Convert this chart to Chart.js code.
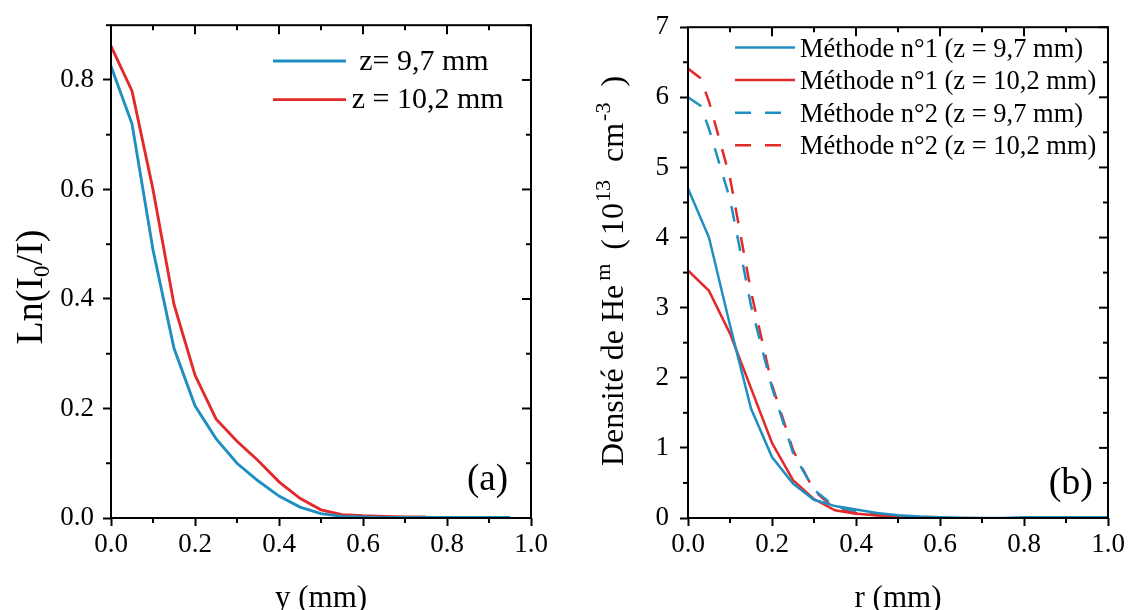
<!DOCTYPE html>
<html lang="fr">
<head>
<meta charset="UTF-8">
<title>Profils Ln(I0/I) et densité He(m)</title>
<script src="https://cdn.jsdelivr.net/npm/chart.js@4"></script>
<style>
  html, body { margin: 0; padding: 0; background: #fff; }
  #wrap { position: relative; width: 1129px; height: 610px; overflow: hidden; }
  #chartA { position: absolute; left: 0; top: 0; }
  #chartB { position: absolute; left: 560px; top: 0; }
</style>
</head>
<body>
<div id="wrap">
  <canvas id="chartA" width="560" height="610"></canvas>
  <canvas id="chartB" width="569" height="610"></canvas>
</div>
<script>
const FONT = '"Liberation Serif", "Times New Roman", Times, serif';
const BLUE = '#1f8fc2';
const RED = '#e32a2a';

// (a) Ln(I0/I) en fonction de y (mm)
const yPos = [0, 0.05, 0.1, 0.15, 0.2, 0.25, 0.3, 0.35, 0.4, 0.45, 0.5, 0.55, 0.6, 0.65, 0.7, 0.75, 0.8, 0.85, 0.9, 0.95];
const lnZ97 = [0.825, 0.72, 0.49, 0.31, 0.205, 0.145, 0.10, 0.068, 0.04, 0.02, 0.008, 0.003, 0.002, 0.001, 0.001, 0.001, 0.001, 0.001, 0.001, 0.001];
const lnZ102 = [0.862, 0.78, 0.60, 0.39, 0.261, 0.181, 0.14, 0.105, 0.066, 0.036, 0.015, 0.006, 0.004, 0.003, 0.002, 0.002];
const labelsA = [' z= 9,7 mm', 'z = 10,2 mm'];

// (b) densité de He(m) en fonction de r (mm)
const rPos = [0, 0.05, 0.1, 0.15, 0.2, 0.25, 0.3, 0.35, 0.4, 0.45, 0.5, 0.55, 0.6, 0.65, 0.7, 0.75, 0.8, 0.85, 0.9, 0.95, 1.0];
const m1Z97 = [4.70, 4.00, 2.75, 1.56, 0.87, 0.49, 0.26, 0.17, 0.12, 0.07, 0.04, 0.02, 0.01, 0.005, 0, 0, 0.01, 0.01, 0.01, 0.01, 0.01];
const m1Z102 = [3.53, 3.24, 2.63, 1.85, 1.07, 0.54, 0.27, 0.11, 0.06, 0.04, 0.025, 0.015, 0.01];
const rPos2 = [0, 0.03, 0.05, 0.1, 0.15, 0.2, 0.25, 0.3, 0.35, 0.4, 0.45, 0.5];
const m2Z97 = [6.00, 5.88, 5.55, 4.55, 3.03, 1.86, 0.93, 0.40, 0.16, 0.10, 0.05, 0.02];
const m2Z102 = [6.41, 6.27, 5.94, 4.85, 3.23, 1.90, 0.97, 0.39, 0.13, 0.07, 0.04, 0.02];
const labelsB = ['Méthode n°1 (z = 9,7 mm)', 'Méthode n°1 (z = 10,2 mm)', 'Méthode n°2 (z = 9,7 mm)', 'Méthode n°2 (z = 10,2 mm)'];

const pts = (xs, ys) => ys.map((v, i) => ({x: xs[i], y: v}));

function line(ctx, x1, y1, x2, y2) {
  ctx.beginPath(); ctx.moveTo(x1, y1); ctx.lineTo(x2, y2); ctx.stroke();
}

// texte vertical avec indices / exposants
function drawVertical(ctx, parts, bx, cy) {
  ctx.save();
  ctx.translate(bx, cy);
  ctx.rotate(-Math.PI / 2);
  ctx.fillStyle = '#000';
  ctx.textBaseline = 'alphabetic';
  let total = 0;
  parts.forEach(p => {
    ctx.font = p.s + 'px ' + FONT;
    p.w = ctx.measureText(p.t).width;
    total += p.w + (p.pad || 0);
  });
  let x = -total / 2;
  parts.forEach(p => {
    x += p.pad || 0;
    ctx.font = p.s + 'px ' + FONT;
    ctx.fillText(p.t, x, p.dy || 0);
    x += p.w;
  });
  ctx.restore();
}

// cadre, petites graduations, légende, titre y et étiquette (a)/(b)
const decor = {
  id: 'decor',
  afterDatasetsDraw(chart, args, o) {
    const {ctx, chartArea: a, scales: {x, y}} = chart;
    ctx.save();
    ctx.strokeStyle = '#000';
    ctx.lineWidth = 2;
    ctx.setLineDash([]);
    ctx.strokeRect(a.left, a.top, a.right - a.left, a.bottom - a.top);

    const nx = Math.round((x.max - x.min) / o.xMinor);
    for (let i = 0; i <= nx; i++) {
      const px = x.getPixelForValue(x.min + i * o.xMinor);
      const major = i % o.xEvery === 0;
      if (!major) line(ctx, px, a.bottom, px, a.bottom + 5);
      line(ctx, px, a.top, px, a.top + (major ? 9 : 5));
    }
    const ny = Math.round((y.max - y.min) / o.yMinor);
    for (let i = 0; i <= ny; i++) {
      const py = y.getPixelForValue(y.min + i * o.yMinor);
      const major = i % o.yEvery === 0;
      if (!major) line(ctx, a.left - 5, py, a.left, py);
      line(ctx, a.right - (major ? 9 : 5), py, a.right, py);
    }

    // légende
    const L = o.legend;
    chart.data.datasets.forEach((ds, i) => {
      const ly = L.y + i * L.rowH;
      ctx.strokeStyle = ds.borderColor;
      ctx.lineWidth = ds.borderWidth;
      ctx.setLineDash(ds.borderDash || []);
      line(ctx, L.x, ly, L.x + L.len, ly);
      ctx.setLineDash([]);
      ctx.fillStyle = '#000';
      ctx.font = L.size + 'px ' + FONT;
      ctx.textAlign = 'left';
      ctx.textBaseline = 'alphabetic';
      ctx.fillText(ds.label, L.x + L.len + L.gap, ly + L.dy);
    });

    // (a) / (b)
    ctx.font = o.tag.size + 'px ' + FONT;
    ctx.textAlign = 'right';
    ctx.fillText(o.tag.text, o.tag.x, o.tag.y);
    ctx.restore();

    drawVertical(ctx, o.yTitle.parts, o.yTitle.x, o.yTitle.y);
  }
};

function makeChart(id, datasets, s) {
  return new Chart(document.getElementById(id), {
    type: 'line',
    data: {datasets},
    options: {
      responsive: false,
      animation: false,
      devicePixelRatio: 1,
      layout: {padding: {left: 0, top: 24, right: s.padRight, bottom: 0}},
      elements: {point: {radius: 0}, line: {tension: 0}},
      plugins: {
        legend: {display: false},
        tooltip: {enabled: false},
        decor: s.decor
      },
      scales: {
        x: {
          type: 'linear', min: 0, max: 1,
          afterFit: sc => { sc.height = 92; },
          grid: {drawOnChartArea: false, drawTicks: true, tickLength: 8, tickWidth: 2, tickColor: '#000'},
          border: {display: false},
          ticks: {stepSize: 0.2, padding: 3, color: '#000', font: {family: FONT, size: 27},
                  callback: v => v.toFixed(1)},
          title: {display: true, text: s.xTitle, color: '#000', padding: {top: 0, bottom: -4},
                  font: {family: FONT, size: 31, lineHeight: 1}}
        },
        y: {
          min: 0, max: s.yMax,
          afterFit: sc => { sc.width = s.yWidth; },
          grid: {drawOnChartArea: false, drawTicks: true, tickLength: 8, tickWidth: 2, tickColor: '#000'},
          border: {display: false},
          ticks: {stepSize: s.yStep, includeBounds: false, padding: s.yPad, color: '#000',
                  font: {family: FONT, size: 27}, callback: s.yFmt}
        }
      }
    },
    plugins: [decor]
  });
}

makeChart('chartA', [
  {label: labelsA[0], data: pts(yPos, lnZ97), borderColor: BLUE, borderWidth: 2.9},
  {label: labelsA[1], data: pts(yPos, lnZ102), borderColor: RED, borderWidth: 2.9}
], {
  padRight: 29, yWidth: 111, yMax: 0.9, yStep: 0.2, yPad: 9,
  yFmt: v => v.toFixed(1),
  xTitle: 'y (mm)',
  decor: {
    xMinor: 0.1, xEvery: 2, yMinor: 0.1, yEvery: 2,
    legend: {x: 273, y: 61, rowH: 38.6, len: 73, gap: 5.7, dy: 8.5, size: 30},
    tag: {text: '(a)', x: 508, y: 490, size: 37},
    yTitle: {x: 42, y: 287, parts: [
      {t: 'Ln(I', s: 38}, {t: '0', s: 23, dy: 7}, {t: '/I)', s: 38}
    ]}
  }
});

makeChart('chartB', [
  {label: labelsB[0], data: pts(rPos, m1Z97), borderColor: BLUE, borderWidth: 2.5},
  {label: labelsB[1], data: pts(rPos, m1Z102), borderColor: RED, borderWidth: 2.5},
  {label: labelsB[2], data: pts(rPos2, m2Z97), borderColor: BLUE, borderWidth: 2.5, borderDash: [16, 14]},
  {label: labelsB[3], data: pts(rPos2, m2Z102), borderColor: RED, borderWidth: 2.5, borderDash: [16, 14]}
], {
  padRight: 21, yWidth: 128, yMax: 7, yStep: 1, yPad: 11,
  yFmt: v => String(v),
  xTitle: 'r (mm)',
  decor: {
    xMinor: 0.1, xEvery: 2, yMinor: 0.5, yEvery: 2,
    legend: {x: 175, y: 47.5, rowH: 32.6, len: 60, gap: 5, dy: 9, size: 26.5},
    tag: {text: '(b)', x: 533, y: 494, size: 38},
    yTitle: {x: 63, y: 271, parts: [
      {t: 'Densité de He', s: 32},
      {t: 'm', s: 22, dy: -13, pad: 4},
      {t: '(', s: 32, pad: 14},
      {t: '10', s: 32, pad: 4},
      {t: '13', s: 22, dy: -13, pad: 1},
      {t: 'cm', s: 32, pad: 18},
      {t: '-3', s: 22, dy: -13, pad: 2},
      {t: ')', s: 32, pad: 16}
    ]}
  }
});
</script>
</body>
</html>
